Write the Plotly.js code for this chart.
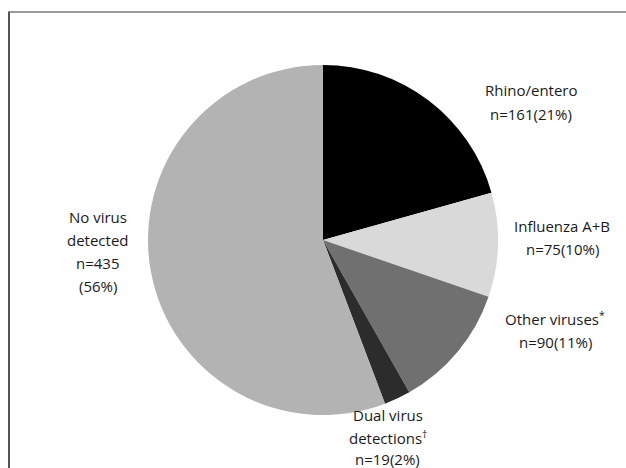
<!DOCTYPE html>
<html>
<head>
<meta charset="utf-8">
<script src="https://cdn.plot.ly/plotly-3.0.1.min.js"></script>
<style>
  html, body { margin: 0; padding: 0; background: #ffffff; }
  #chart { width: 626px; height: 468px; }
</style>
</head>
<body>
<div id="chart"></div>
<script>
// Respiratory virus detections, clockwise from 12 o'clock
const categories = ["Rhino/entero", "Influenza A+B", "Other viruses", "Dual virus detections", "No virus detected"];
const counts = [161, 75, 90, 19, 435];
const percents = [21, 10, 11, 2, 56];
const sliceColors = ["#000000", "#d9d9d9", "#707070", "#2c2c2c", "#b3b3b3"];

// Label text lines shown beside each slice (name lines; the count line is built from the data)
const labelNames = [
  ["Rhino/entero"],
  ["Influenza A+B"],
  ["Other viruses<sup>*</sup>"],
  ["Dual virus", "detections<sup>†</sup>"],
  ["No virus", "detected"]
];
// Label placement in pixels: centre x, y of the first line's middle, line step
const labelPos = [
  [531, 90, 24],
  [562, 226, 23],
  [555, 318, 24],
  [388, 415, 22],
  [98, 217, 23]
];

const W = 626, H = 468;

function countLines(i) {
  // the largest slice breaks its count and percentage onto two lines
  return i === 4 ? ["n=" + counts[i], "(" + percents[i] + "%)"]
                 : ["n=" + counts[i] + "(" + percents[i] + "%)"];
}

const annotations = [];
categories.forEach((c, i) => {
  const lines = labelNames[i].concat(countLines(i));
  const [cx, y0, step] = labelPos[i];
  lines.forEach((t, k) => {
    annotations.push({
      xref: "paper", yref: "paper",
      x: cx / W,
      y: 1 - (y0 + k * step) / H,
      xanchor: "center", yanchor: "middle",
      showarrow: false, align: "center",
      text: t,
      font: { family: "Open Sans, sans-serif", size: 15, color: "#1a1a1a" }
    });
  });
});

const trace = {
  type: "pie",
  labels: categories,
  values: counts,
  sort: false,
  direction: "clockwise",
  rotation: 0,
  textinfo: "none",
  hoverinfo: "label+value+percent",
  marker: { colors: sliceColors, line: { width: 0 } },
  domain: { x: [148 / W, 498 / W], y: [1 - 415 / H, 1 - 65 / H] },
  showlegend: false
};

const layout = {
  width: W, height: H,
  margin: { l: 0, r: 0, t: 0, b: 0 },
  paper_bgcolor: "#ffffff",
  showlegend: false,
  annotations: annotations,
  shapes: [
    // frame: top rule and left rule
    { type: "line", xref: "paper", yref: "paper", x0: 8 / W, x1: 1, y0: 1 - 12 / H, y1: 1 - 12 / H,
      line: { color: "#9a9a9a", width: 2 } },
    { type: "line", xref: "paper", yref: "paper", x0: 9 / W, x1: 9 / W, y0: 0, y1: 1 - 12 / H,
      line: { color: "#555555", width: 2 } }
  ]
};

Plotly.newPlot("chart", [trace], layout, { staticPlot: true, displayModeBar: false });
</script>
</body>
</html>
